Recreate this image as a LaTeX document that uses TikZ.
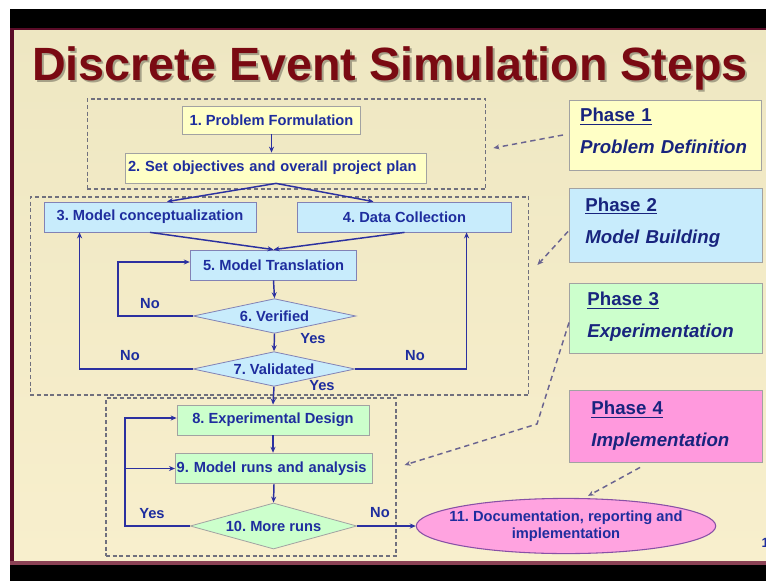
\documentclass[tikz,border=0pt]{standalone}
\usepackage{fontspec}
\setmainfont{Liberation Sans}
\usetikzlibrary{calc}
\usetikzlibrary{positioning}
\usetikzlibrary{shapes.geometric}
\usetikzlibrary{arrows.meta}
\frenchspacing

\definecolor{framered}{HTML}{5A0C28}
\definecolor{titlered}{HTML}{7A0A12}
\definecolor{textblue}{HTML}{1E2D9E}
\definecolor{flowblue}{HTML}{2B30A0}
\definecolor{areagray}{HTML}{70707E}
\definecolor{linkgray}{HTML}{6A6490}
\definecolor{boxgray}{HTML}{A2A2A2}
\definecolor{yellowfill}{HTML}{FFFFC6}
\definecolor{bluefill}{HTML}{C8ECFC}
\definecolor{greenfill}{HTML}{CCFFCC}
\definecolor{pinkfill}{HTML}{FF99DD}
\definecolor{slidetop}{HTML}{EEE7C2}
\definecolor{slidebottom}{HTML}{F8EFCD}

\tikzset{
    every node/.style={font=\bfseries\fontsize{11}{13}\selectfont, text=textblue},
    box/.style={draw=boxgray, line width=0.6pt, inner sep=1pt, minimum height=22.5pt},
    probbox/.style={box, fill=yellowfill},
    modelbox/.style={box, fill=bluefill, draw=boxgray!80!blue},
    expbox/.style={box, fill=greenfill},
    decision/.style={diamond, aspect=4.6, inner sep=0pt, fill=bluefill, draw=boxgray!80!blue, line width=0.6pt},
    phasebox/.style={draw=boxgray, line width=0.6pt, align=left, anchor=west,
        font=\bfseries\fontsize{14}{17}\selectfont, text=textblue!80!black},
    area/.style={draw=areagray, dashed, dash pattern=on 3pt off 2pt, line width=0.9pt, inner sep=0pt},
    flow/.style={draw=flowblue, line width=1.1pt, -{Stealth[length=4.5pt,width=3.8pt]}},
    link/.style={draw=linkgray, line width=1.1pt, dash pattern=on 4pt off 3pt, -{Stealth[length=4.5pt,width=3.8pt]}},
    lbl/.style={inner sep=0pt}
}

\begin{document}
\begin{tikzpicture}[x=0.75pt, y=-0.75pt]
    \useasboundingbox (0,0) rectangle (766,581);
    \fill[white] (0,0) rectangle (766,581);
    \fill[top color=slidetop, bottom color=slidebottom] (10,28) rectangle (766,564);
    \fill[black] (10,9) rectangle (766,28);
    \fill[framered] (10,28) rectangle (766,30);
    \fill[framered] (10,28) rectangle (14,566);
    \fill[framered!70!pink] (10,561) rectangle (766,565);
    \fill[black] (10,565) rectangle (766,581);

    \node[anchor=base, text=black, opacity=0.3, font=\bfseries\fontsize{35}{40}\selectfont] (titleshadow) at (392,83) {Discrete Event Simulation Steps};
    \node[anchor=base, text=titlered, font=\bfseries\fontsize{35}{40}\selectfont] (title) at (390,81) {Discrete Event Simulation Steps};

    \node[area, minimum width=299pt, minimum height=67.5pt] (ph1) at (286.5,144) {};
    \node[area, minimum width=374pt, minimum height=148.5pt] (ph2) at (279.5,296) {};
    \node[area, minimum width=217.5pt, minimum height=118.5pt] (ph3) at (251,477) {};

    \node[probbox, minimum width=133pt, minimum height=21pt] (b1) at (271.5,120) {1. Problem Formulation};
    \node[probbox, text width=222pt, inner xsep=2pt, align=left] (b2) at (276,168) {2. Set objectives and overall project plan};
    \node[modelbox, minimum width=159pt] (b3) at (150,217) {3. Model conceptualization};
    \node[modelbox, minimum width=160pt] (b4) at (404.5,217) {4. Data Collection};
    \node[modelbox, minimum width=125pt] (b5) at (273.5,265) {5. Model Translation};
    \node[decision, minimum width=122pt, minimum height=26pt] (d6) at (274.5,316) {6. Verified};
    \node[decision, minimum width=121.5pt, minimum height=26pt] (d7) at (274,369) {7. Validated};
    \node[expbox, minimum width=144pt] (b8) at (273,420) {8. Experimental Design};
    \node[expbox, text width=146pt, inner xsep=1pt, align=left, minimum height=23pt] (b9) at (274,468.5) {9. Model runs and analysis};
    \node[decision, fill=greenfill, draw=boxgray, minimum width=125pt, minimum height=34.5pt] (d10) at (273.5,526) {10. More runs};
    \node[ellipse, fill=pinkfill!90!white, draw=linkgray!80!magenta, line width=0.8pt, inner xsep=-8pt, inner ysep=3pt, align=center] (e11) at (566,526) {11. Documentation, reporting and\\implementation};

    \node[phasebox, fill=yellowfill, minimum width=144pt, minimum height=52.5pt, text width=128pt, inner xsep=6pt] (p1) at (569,135) {\underline{Phase 1}\\[7pt]\textit{Problem Definition}\rule[-6pt]{0pt}{6pt}};
    \node[phasebox, fill=bluefill, minimum width=145pt, minimum height=55pt, text width=121pt, inner xsep=10.5pt] (p2) at (569,225.5) {\underline{Phase 2}\\[7pt]\textit{Model Building}\rule[-7.5pt]{0pt}{7.5pt}};
    \node[phasebox, fill=greenfill, minimum width=145pt, minimum height=53pt, text width=118pt, inner xsep=12pt] (p3) at (569,318.5) {\underline{Phase 3}\\[7pt]\textit{Experimentation}\rule[-5pt]{0pt}{5pt}};
    \node[phasebox, fill=pinkfill, minimum width=145pt, minimum height=54pt, text width=112pt, inner xsep=15pt] (p4) at (569,426) {\underline{Phase 4}\\[7pt]\textit{Implementation}};

    \draw[flow] (b1.south) -- (b1.south |- b2.north);
    \draw[flow] (b2.south) -- ($(b3.north)+(17,0)$);
    \draw[flow] (b2.south) -- ($(b4.north)+(-31,0)$);
    \draw[flow] (b3.south) -- (b5.north);
    \draw[flow] (b4.south) -- (b5.north);
    \draw[flow] (b5.south) -- (d6.north);
    \draw[flow] (d6.south) -- (d7.north);
    \draw[flow] (d7.south) -- (b8.north);
    \draw[flow] (b8.south) -- (b8.south |- b9.north);
    \draw[flow] (b9.south) -- (d10.north);

    \draw[flow] (d6.west) -- ++(-75,0) |- ($(b5.west)+(0,-3)$);
    \draw[flow] (d7.west) -| ($(b3.south west)+(36,0)$);
    \draw[flow] (d7.east) -| ($(b4.south east)+(-45,0)$);

    \coordinate (yesloop) at ($(d10.west)+(-65,0)$);
    \draw[flow] (d10.west) -- (yesloop) |- ($(b8.west)+(0,-2)$);
    \draw[flow] (yesloop |- b9.west) -- (b9.west);
    \draw[flow] (d10.east) -- (e11.west);

    \node[lbl] (no6) at (150,304) {No};
    \node[lbl] (yes6) at (313,339) {Yes};
    \node[lbl] (no7l) at (130,356) {No};
    \node[lbl] (no7r) at (415,356) {No};
    \node[lbl] (yes7) at (322,386) {Yes};
    \node[lbl] (yes10) at (152,514) {Yes};
    \node[lbl] (no10) at (380,513) {No};

    \draw[link] ($(p1.west)+(-6,0)$) -- ($(ph1.east)+(7,4)$);
    \draw[link] ($(p2.west)+(-1,6)$) -- ($(ph2.east)+(8,-31)$);
    \draw[link] ($(p3.west)+(0,4)$) -- (537,424) -- ($(ph3.east)+(8,-12)$);
    \draw[link] ($(p4.south)+(-26,5)$) -- ($(e11.north)+(22,-2)$);

    \node[anchor=west, font=\bfseries\fontsize{10}{12}\selectfont] (slideno) at (757,543) {10};
\end{tikzpicture}
\end{document}
